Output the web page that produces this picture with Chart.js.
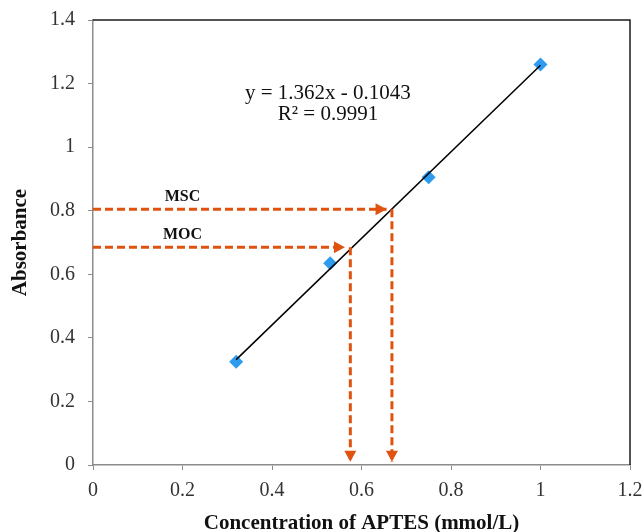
<!DOCTYPE html>
<html>
<head>
<meta charset="utf-8">
<script src="https://cdn.jsdelivr.net/npm/chart.js@4.4.1/dist/chart.umd.min.js"></script>
<style>
  html, body { margin: 0; padding: 0; background: #fff; }
  #wrap { width: 644px; height: 532px; }
</style>
</head>
<body>
<div id="wrap"><canvas id="chart" width="644" height="532"></canvas></div>
<script>
// Calibration points (APTES concentration vs absorbance)
const concentration = [0.32, 0.53, 0.75, 1.0];
const absorbance = [0.325, 0.635, 0.905, 1.26];

// Linear fit shown on the plot
const slope = 1.362;
const intercept = -0.1043;
const rSquared = 0.9991;

// Read-off levels for MSC / MOC and where they hit the fit line
const levelNames = ['MSC', 'MOC'];
const levelAbs = [0.805, 0.685];
const levelConc = [0.668, 0.575];

const xTicks = [0, 0.2, 0.4, 0.6, 0.8, 1, 1.2];
const yTicks = [0, 0.2, 0.4, 0.6, 0.8, 1, 1.2, 1.4];

const orange = '#e0520f';
const serif = "'Liberation Serif', 'Times New Roman', serif";

const fitLine = [concentration[0], concentration[concentration.length - 1]].map((x) => ({
    x, y: slope * x + intercept,
}));

// dashed guides: horizontal from the y axis, vertical down to the x axis
const guideSets = [];
levelNames.forEach((name, i) => {
    guideSets.push({
        label: name + ' h',
        data: [{ x: 0, y: levelAbs[i] }, { x: levelConc[i] - 0.012, y: levelAbs[i] }],
        borderColor: orange, borderWidth: 3, borderDash: [8, 4],
        pointRadius: 0, showLine: true, fill: false, arrow: 'right',
    });
    guideSets.push({
        label: name + ' v',
        data: [{ x: levelConc[i], y: levelAbs[i] }, { x: levelConc[i], y: 0.01 }],
        borderColor: orange, borderWidth: 3, borderDash: [8, 4],
        pointRadius: 0, showLine: true, fill: false, arrow: 'down',
    });
});

const arrowHeads = {
    id: 'arrowHeads',
    afterDatasetsDraw(chart) {
        const { ctx, scales: { x, y } } = chart;
        chart.data.datasets.forEach((ds) => {
            if (!ds.arrow) return;
            const end = ds.data[ds.data.length - 1];
            const px = x.getPixelForValue(end.x);
            const py = y.getPixelForValue(end.y);
            ctx.save();
            ctx.fillStyle = orange;
            ctx.beginPath();
            if (ds.arrow === 'right') {
                ctx.moveTo(px, py);
                ctx.lineTo(px - 11, py - 6);
                ctx.lineTo(px - 11, py + 6);
            } else {
                ctx.moveTo(px, py);
                ctx.lineTo(px - 6, py - 11);
                ctx.lineTo(px + 6, py - 11);
            }
            ctx.closePath();
            ctx.fill();
            ctx.restore();
        });
    },
};

const plotText = {
    id: 'plotText',
    afterDraw(chart) {
        const { ctx, chartArea, scales: { x, y } } = chart;
        ctx.save();
        // frame: dark top and right edges
        ctx.strokeStyle = '#1a1a1a';
        ctx.lineWidth = 1.5;
        ctx.beginPath();
        ctx.moveTo(chartArea.left, chartArea.top);
        ctx.lineTo(chartArea.right, chartArea.top);
        ctx.lineTo(chartArea.right, chartArea.bottom);
        ctx.stroke();

        ctx.fillStyle = '#111';
        ctx.textAlign = 'center';
        ctx.textBaseline = 'middle';
        ctx.font = '21px ' + serif;
        const ex = x.getPixelForValue(0.525);
        ctx.fillText('y = ' + slope + 'x - ' + Math.abs(intercept), ex, y.getPixelForValue(1.17));
        ctx.fillText('R² = ' + rSquared, ex, y.getPixelForValue(1.104));

        ctx.font = 'bold 16px ' + serif;
        levelNames.forEach((name, i) => {
            ctx.fillText(name, x.getPixelForValue(0.2), y.getPixelForValue(levelAbs[i] + 0.04));
        });
        ctx.restore();
    },
};

// keep tick labels from pushing the plot area around
const noEdgePadding = (axis) => {
    axis.paddingTop = 0;
    axis.paddingBottom = 0;
    axis.paddingLeft = 0;
    axis.paddingRight = 0;
};

new Chart(document.getElementById('chart'), {
    type: 'scatter',
    data: {
        datasets: [
            ...guideSets,
            {
                label: 'fit',
                data: fitLine,
                borderColor: '#000', borderWidth: 1.5,
                pointRadius: 0, showLine: true, fill: false,
            },
            {
                label: 'Absorbance',
                data: concentration.map((c, i) => ({ x: c, y: absorbance[i] })),
                pointStyle: 'rectRot', pointRadius: 7,
                backgroundColor: '#2d9cf0', borderColor: '#2d9cf0', borderWidth: 0,
            },
        ],
    },
    options: {
        responsive: false,
        animation: false,
        layout: { padding: { top: 20, right: 14, left: 0, bottom: 0 } },
        plugins: { legend: { display: false }, tooltip: { enabled: false } },
        scales: {
            x: {
                type: 'linear', min: 0, max: 1.2,
                afterBuildTicks: (axis) => { axis.ticks = xTicks.map((v) => ({ value: v })); },
                afterFit: (axis) => { axis.height = 67; noEdgePadding(axis); },
                grid: { drawOnChartArea: false, drawTicks: true, tickLength: 5, color: '#8c8c8c' },
                border: { color: '#8c8c8c', width: 1.5 },
                ticks: {
                    color: '#333', font: { family: serif, size: 20 }, padding: 9, maxRotation: 0,
                    callback: (v) => String(v),
                },
                title: {
                    display: true, text: 'Concentration of APTES (mmol/L)', color: '#111',
                    font: { family: serif, size: 21, weight: 'bold', lineHeight: 1 },
                    padding: { top: 0, bottom: -2 },
                },
            },
            y: {
                type: 'linear', min: 0, max: 1.4,
                afterBuildTicks: (axis) => { axis.ticks = yTicks.map((v) => ({ value: v })); },
                afterFit: (axis) => { axis.width = 93; noEdgePadding(axis); },
                grid: { drawOnChartArea: false, drawTicks: true, tickLength: 5, color: '#8c8c8c' },
                border: { color: '#8c8c8c', width: 1.5 },
                ticks: {
                    color: '#333', font: { family: serif, size: 20 }, padding: 13,
                    callback: (v) => String(v),
                },
                title: {
                    display: true, text: 'Absorbance', color: '#111',
                    font: { family: serif, size: 21, weight: 'bold' },
                    padding: { top: 8, bottom: 0 },
                },
            },
        },
    },
    plugins: [arrowHeads, plotText],
});
</script>
</body>
</html>
